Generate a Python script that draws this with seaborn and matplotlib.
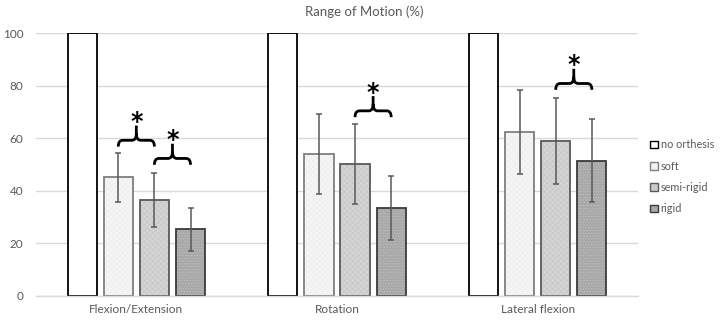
import numpy as np
import pandas as pd
import matplotlib
matplotlib.use("Agg")
import matplotlib.pyplot as plt
from matplotlib.path import Path
from matplotlib.patches import PathPatch, Patch
import seaborn as sns

# Range of motion relative to no orthesis (%), mean and SD
categories = ["Flexion/Extension", "Rotation", "Lateral flexion"]
orthoses = ["no orthesis", "soft", "semi-rigid", "rigid"]
no_orthesis = [100, 100, 100]
no_orthesis_sd = [0, 0, 0]
soft = [45.2, 54.0, 62.3]
soft_sd = [9.3, 15.2, 15.9]
semi_rigid = [36.4, 50.3, 59.0]
semi_rigid_sd = [10.3, 15.2, 16.3]
rigid = [25.3, 33.4, 51.5]
rigid_sd = [8.3, 12.1, 15.7]

# significant differences: (movement, orthesis a, orthesis b, brace base level)
sig_pairs = [
    ("Flexion/Extension", "soft", "semi-rigid", 56.8),
    ("Flexion/Extension", "semi-rigid", "rigid", 49.9),
    ("Rotation", "semi-rigid", "rigid", 68.0),
    ("Lateral flexion", "semi-rigid", "rigid", 78.4),
]

means = [no_orthesis, soft, semi_rigid, rigid]
sds = [no_orthesis_sd, soft_sd, semi_rigid_sd, rigid_sd]
df = pd.DataFrame({
    "movement": np.tile(categories, len(orthoses)),
    "orthesis": np.repeat(orthoses, len(categories)),
    "rom": np.concatenate(means),
    "sd": np.concatenate(sds),
})

fills = ["#ffffff", "#f0f0f0", "#cbcbcb", "#a8a8a8"]
edges = ["#000000", "#7f7f7f", "#595959", "#3a3a3a"]
hatches = [None, "xxxxxx", "xxxxxx", "......"]
hatch_cols = [None, "#fafafa", "#dcdcdc", "#c4c4c4"]

sns.set_theme(style="white")
plt.rcParams["font.family"] = ["Lato", "DejaVu Sans"]
plt.rcParams["hatch.linewidth"] = 0.4
text_col = "#595959"

fig = plt.figure(figsize=(7.25, 3.23), dpi=100)
ax = fig.add_axes([36 / 725, 1 - 296 / 323, 602 / 725, 263 / 323])

sns.barplot(data=df, x="movement", y="rom", hue="orthesis", order=categories,
            hue_order=orthoses, palette=fills, errorbar=None, width=0.72,
            gap=0.19, legend=False, ax=ax, saturation=1)


def set_hatch_colour(patch, colour):
    if hasattr(patch, "set_hatchcolor"):
        patch.set_hatchcolor(colour)
    else:
        patch._hatch_color = matplotlib.colors.to_rgba(colour)


# style bars per orthesis and add SD whiskers
n = len(categories)
centers = {}
for k, p in enumerate(ax.patches):
    h = k // n
    c = k % n
    p.set_edgecolor(edges[h])
    p.set_linewidth(1.3)
    if hatches[h]:
        p.set_hatch(hatches[h])
        set_hatch_colour(p, hatch_cols[h])
    xc = p.get_x() + p.get_width() / 2
    centers[(categories[c], orthoses[h])] = xc
    sd = df["sd"].iloc[k]
    if sd > 0:
        ax.errorbar(xc, p.get_height(), yerr=sd, fmt="none", ecolor="#595959",
                    elinewidth=1.1, capsize=2.5, capthick=1.1, zorder=4)


def brace(x0, x1, yb):
    yh = yb + 2.4
    ytop = yh + 5.6
    xm = (x0 + x1) / 2
    rx = 0.022
    ry = 2.6
    verts = [(x0, yb), (x0, yh), (x0 + rx, yh),
             (xm - rx, yh), (xm, yh), (xm, yh + ry),
             (xm, ytop),
             (xm, yh + ry), (xm, yh), (xm + rx, yh),
             (x1 - rx, yh), (x1, yh), (x1, yb)]
    codes = [Path.MOVETO, Path.CURVE3, Path.CURVE3,
             Path.LINETO, Path.CURVE3, Path.CURVE3,
             Path.LINETO,
             Path.MOVETO, Path.CURVE3, Path.CURVE3,
             Path.LINETO, Path.CURVE3, Path.CURVE3]
    ax.add_patch(PathPatch(Path(verts, codes), fill=False, lw=2.0,
                           edgecolor="black", capstyle="butt", zorder=5))
    ax.text(xm, ytop - 3.2, "*", ha="center", va="bottom", fontsize=17,
            color="black", family="DejaVu Sans", fontweight="bold", zorder=5)


for mv, a, b, yb in sig_pairs:
    brace(centers[(mv, a)], centers[(mv, b)], yb)

ax.set_ylim(0, 100)
ax.set_xlim(-0.5, 2.5)
ax.set_yticks([0, 20, 40, 60, 80, 100])
ax.yaxis.grid(True, color="#d9d9d9", lw=1)
ax.set_axisbelow(True)
for s in ["top", "right", "left"]:
    ax.spines[s].set_visible(False)
ax.spines["bottom"].set_color("#d9d9d9")
ax.spines["bottom"].set_linewidth(1)
ax.set_xlabel("")
ax.set_ylabel("")
ax.tick_params(axis="both", length=0, labelsize=8.5, labelcolor=text_col)
ax.tick_params(axis="y", pad=9)
ax.tick_params(axis="x", pad=6)

fig.text(0.503, 0.965, "Range of Motion (%)", ha="center", va="center",
         fontsize=9.5, color=text_col)

handles = [Patch(facecolor=fills[i], edgecolor=edges[i], lw=1) for i in range(4)]
leg = fig.legend(handles, orthoses, loc="upper left",
                 bbox_to_anchor=(646 / 725, 1 - 135 / 323), frameon=False,
                 fontsize=7.8, labelcolor=text_col, handlelength=0.7,
                 handleheight=0.7, handletextpad=0.25, labelspacing=0.95,
                 borderaxespad=0)

fig.savefig("out.png", dpi=100)
